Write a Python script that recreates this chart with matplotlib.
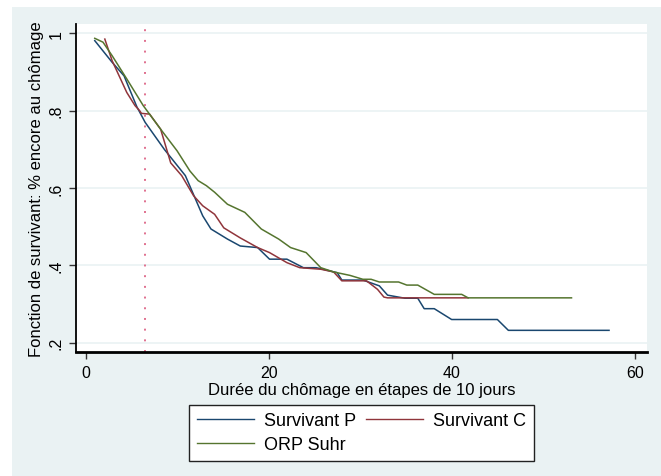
from __future__ import annotations

import matplotlib

matplotlib.use("Agg")
import matplotlib.pyplot as plt
from matplotlib.patches import Rectangle


OUTPUT_PATH = "out.png"

# Kaplan-Meier style survival curves (time in 10-day steps)
SURV_P_X = [1.0, 2.9, 4.2, 5.6, 6.5, 8.6, 10.9, 12.8, 13.7, 15.5, 16.9, 18.8, 20.1, 22.0, 23.8,
            25.2, 27.5, 28.0, 30.3, 32.1, 33.0, 34.9, 36.3, 37.0, 38.1, 40.0, 45.0, 46.2, 57.2]
SURV_P_Y = [0.981, 0.925, 0.890, 0.810, 0.770, 0.700, 0.632, 0.528, 0.494, 0.468, 0.450, 0.446,
            0.416, 0.416, 0.394, 0.394, 0.381, 0.362, 0.362, 0.347, 0.323, 0.315, 0.315, 0.288,
            0.288, 0.260, 0.260, 0.232, 0.232]

SURV_C_X = [2.1, 2.9, 4.5, 5.4, 5.9, 6.1, 7.0, 8.2, 9.3, 10.5, 11.8, 12.8, 14.1, 15.1, 16.9,
            18.8, 20.1, 22.0, 23.4, 25.7, 27.1, 28.0, 30.7, 31.9, 32.6, 33.0, 41.8]
SURV_C_Y = [0.985, 0.929, 0.847, 0.813, 0.800, 0.793, 0.791, 0.752, 0.665, 0.632, 0.580, 0.554,
            0.532, 0.497, 0.471, 0.446, 0.433, 0.407, 0.394, 0.390, 0.383, 0.360, 0.360, 0.338,
            0.318, 0.316, 0.316]

ORP_X = [1.0, 1.9, 2.9, 4.5, 6.3, 8.2, 10.0, 11.4, 12.3, 13.2, 14.1, 15.5, 17.4, 19.2, 21.1,
         22.4, 24.1, 25.7, 27.1, 28.9, 30.3, 31.2, 32.1, 34.2, 35.1, 36.3, 38.1, 41.1, 41.8, 53.1]
ORP_Y = [0.987, 0.977, 0.942, 0.882, 0.813, 0.752, 0.696, 0.644, 0.619, 0.606, 0.589, 0.558,
         0.537, 0.494, 0.468, 0.446, 0.433, 0.394, 0.383, 0.374, 0.364, 0.364, 0.357, 0.357,
         0.349, 0.349, 0.325, 0.325, 0.316, 0.316]

CUTOFF_X = 6.5

X_TICKS = [0, 20, 40, 60]
Y_TICKS = [0.2, 0.4, 0.6, 0.8, 1.0]
Y_TICK_LABELS = [".2", ".4", ".6", ".8", "1"]

SERIES_LABELS = ["Survivant P", "Survivant C", "ORP Suhr"]
SERIES_COLORS = ["#1a476f", "#90353b", "#55752f"]

GRAPH_BG = "#eaf2f3"
GRID_COLOR = "#eaf2f3"


def plot_survival() -> None:
    plt.rcParams["font.family"] = ["Liberation Sans", "DejaVu Sans"]
    fig = plt.figure(figsize=(6.61, 4.77), dpi=100)
    fig.patch.set_facecolor("white")
    fig.patches.append(
        Rectangle((12 / 661, 0), 1, 1 - 8 / 477, transform=fig.transFigure,
                  facecolor=GRAPH_BG, edgecolor="none", zorder=-10)
    )

    ax = fig.add_axes((75.9 / 661, 1 - 353 / 477, (647 - 75.9) / 661, (353 - 25) / 477))
    ax.set_facecolor("white")

    for y in Y_TICKS:
        ax.axhline(y, color=GRID_COLOR, linewidth=1.2, zorder=1)

    ax.axvline(CUTOFF_X, color="#e0708f", linewidth=1.4, linestyle=(0, (1, 4.5)), zorder=2)

    series = [(SURV_P_X, SURV_P_Y), (SURV_C_X, SURV_C_Y), (ORP_X, ORP_Y)]
    handles = []
    for (xs, ys), label, color in zip(series, SERIES_LABELS, SERIES_COLORS):
        (line,) = ax.plot(xs, ys, color=color, linewidth=1.1, label=label, zorder=3)
        handles.append(line)

    ax.set_xlim(-1.06, 61.35)
    ax.set_ylim(0.176, 1.024)
    ax.set_xticks(X_TICKS)
    ax.set_yticks(Y_TICKS)
    ax.set_yticklabels(Y_TICK_LABELS, rotation=90, va="center")
    ax.tick_params(axis="both", direction="out", length=5, width=1, color="#333333",
                   labelsize=11.5, pad=4)

    for side in ("top", "right"):
        ax.spines[side].set_visible(False)
    ax.spines["left"].set_linewidth(1.3)
    ax.spines["bottom"].set_linewidth(2.0)

    ax.set_xlabel("Durée du chômage en étapes de 10 jours", fontsize=12, labelpad=2)
    ax.set_ylabel("Fonction de survivant: % encore au chômage", fontsize=12, labelpad=3)

    # row-major order for a two-column legend
    order = [0, 2, 1]
    leg = fig.legend(
        [handles[i] for i in order],
        [SERIES_LABELS[i] for i in order],
        loc="upper center",
        bbox_to_anchor=(361.5 / 661, 1 - 406 / 477),
        borderaxespad=0,
        ncol=2,
        fontsize=13,
        handlelength=3.2,
        handletextpad=0.55,
        columnspacing=0.5,
        labelspacing=0.4,
        borderpad=0.4,
        fancybox=False,
        framealpha=1,
    )
    leg.get_frame().set_edgecolor("#222222")
    leg.get_frame().set_linewidth(1.0)
    for line in leg.get_lines():
        line.set_linewidth(1.0)

    fig.savefig(OUTPUT_PATH, dpi=100)
    plt.close(fig)


def main() -> None:
    plot_survival()


if __name__ == "__main__":
    main()
